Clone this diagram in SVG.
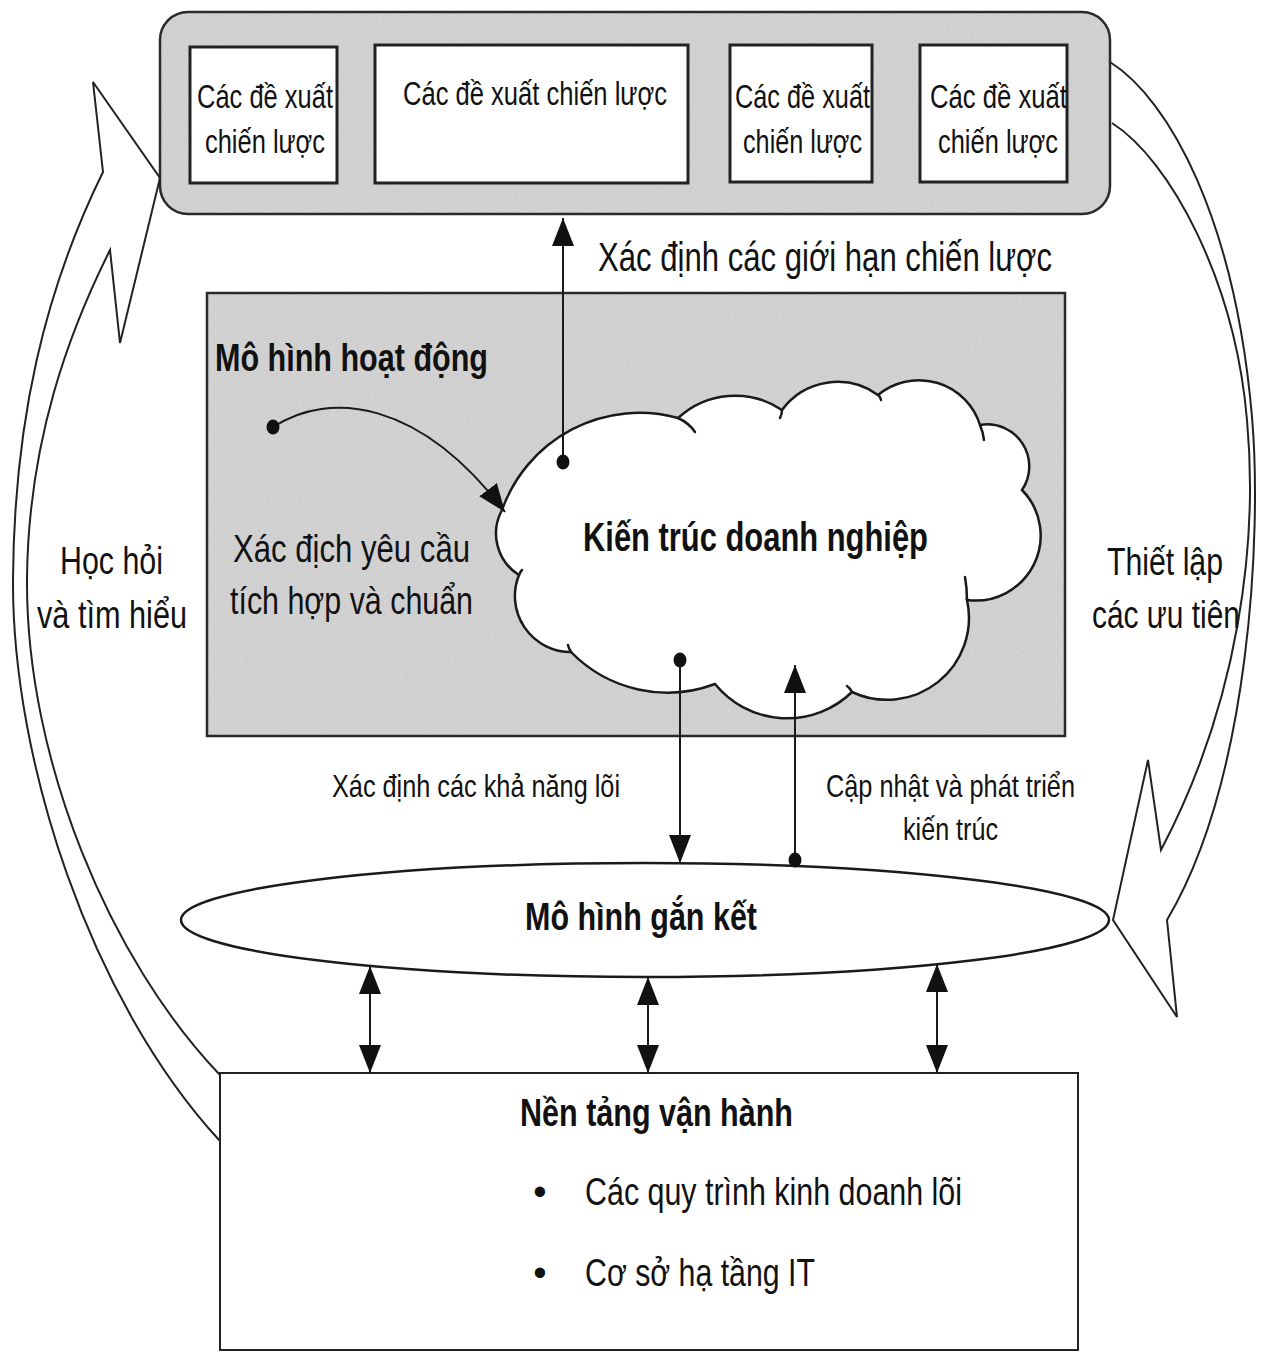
<svg xmlns="http://www.w3.org/2000/svg" width="1266" height="1353" viewBox="0 0 1266 1353">
<defs>
<marker id="ah" viewBox="0 0 28 22" refX="28" refY="11" markerWidth="28" markerHeight="22" markerUnits="userSpaceOnUse" orient="auto-start-reverse">
<path d="M0,0 L28,11 L0,22 Z" fill="#111"/>
</marker>
<marker id="dot" viewBox="0 0 14 16" refX="7" refY="8" markerWidth="14" markerHeight="16" markerUnits="userSpaceOnUse">
<ellipse cx="7" cy="8" rx="6.5" ry="7.5" fill="#111"/>
</marker>
<filter id="grain" x="0" y="0" width="100%" height="100%">
<feTurbulence type="fractalNoise" baseFrequency="0.85" numOctaves="2" seed="7" result="n"/>
<feColorMatrix in="n" type="matrix" values="0 0 0 0 0.5  0 0 0 0 0.5  0 0 0 0 0.5  0 0 0 0.9 -0.3" result="g"/>
<feComposite in="g" in2="SourceGraphic" operator="in" result="gi"/>
<feMerge><feMergeNode in="SourceGraphic"/><feMergeNode in="gi"/></feMerge>
</filter>
</defs>
<style>
text{font-family:"Liberation Sans",Arial,sans-serif;fill:#111}
.r34{font-size:34px}
.r32{font-size:32px}
.r38{font-size:38px}
.r40{font-size:40px}
.b{font-weight:bold;font-size:39px}
.fillgrey{fill:#d4d4d4}
.edge{fill:none;stroke:#2a2a2a;stroke-width:2.5}
.wbox{fill:#fff;stroke:#222;stroke-width:3}
.line{fill:none;stroke:#1a1a1a;stroke-width:2}
.big{fill:none;stroke:#222;stroke-width:2}
.tail{fill:none;stroke:#1a1a1a;stroke-width:2.5;stroke-linecap:round}
</style>
<rect width="1266" height="1353" fill="#fff"/>

<g id="strategy-group">
<rect x="160" y="12" width="950" height="202" rx="28" ry="28" class="fillgrey" filter="url(#grain)"/>
<rect x="160" y="12" width="950" height="202" rx="28" ry="28" class="edge"/>
</g>
<g id="proposal-1">
<rect x="190" y="47" width="147" height="136" class="wbox"/>
<text class="r34" x="197" y="108" textLength="136" lengthAdjust="spacingAndGlyphs">Các đề xuất</text>
<text class="r34" x="205" y="153" textLength="120" lengthAdjust="spacingAndGlyphs">chiến lược</text>
</g>
<g id="proposal-2">
<rect x="375" y="45" width="313" height="138" class="wbox"/>
<text class="r34" x="403" y="105" textLength="264" lengthAdjust="spacingAndGlyphs">Các đề xuất chiến lược</text>
</g>
<g id="proposal-3">
<rect x="730" y="45" width="142" height="137" class="wbox"/>
<text class="r34" x="735" y="108" textLength="135" lengthAdjust="spacingAndGlyphs">Các đề xuất</text>
<text class="r34" x="743" y="153" textLength="119" lengthAdjust="spacingAndGlyphs">chiến lược</text>
</g>
<g id="proposal-4">
<rect x="920" y="45" width="147" height="137" class="wbox"/>
<text class="r34" x="930" y="108" textLength="137" lengthAdjust="spacingAndGlyphs">Các đề xuất</text>
<text class="r34" x="938" y="153" textLength="120" lengthAdjust="spacingAndGlyphs">chiến lược</text>
</g>

<g id="operating-model">
<rect x="207" y="293" width="858" height="443" class="fillgrey" filter="url(#grain)"/>
<rect x="207" y="293" width="858" height="443" class="edge"/>
<text class="b" x="215" y="371" style="font-size:38px" textLength="273" lengthAdjust="spacingAndGlyphs">Mô hình hoạt động</text>
<text class="r38" x="233" y="562" textLength="237" lengthAdjust="spacingAndGlyphs">Xác địch yêu cầu</text>
<text class="r38" x="230" y="614" textLength="243" lengthAdjust="spacingAndGlyphs">tích hợp và chuẩn</text>
</g>

<g id="enterprise-architecture">
<path d="M502,510 A146,146 0 0 1 678,418 A84,84 0 0 1 782,410 A69,69 0 0 1 878,395 A64,64 0 0 1 980,425 A42,42 0 0 1 1022,490 A65,65 0 0 1 967,600 A82,82 0 0 1 852,692 A93,93 0 0 1 715,684 A135,135 0 0 1 571,652 A56,56 0 0 1 519,575 A49,49 0 0 1 502,510 Z" fill="#fff" stroke="#1a1a1a" stroke-width="2.5"/>
<path class="tail" d="M678,418 Q689,423 695,432"/>
<path class="tail" d="M782,410 Q782,414 780,418"/>
<path class="tail" d="M878,395 Q880,396 881,400"/>
<path class="tail" d="M980,425 Q983,432 984,440"/>
<path class="tail" d="M967,600 Q967,588 965,577"/>
<path class="tail" d="M852,692 Q850,688 847,686"/>
<path class="tail" d="M571,652 Q569,649 568,645"/>
<path class="tail" d="M519,575 Q520,572 522,570"/>
<text class="b" x="583" y="551" style="font-size:40px" textLength="345" lengthAdjust="spacingAndGlyphs">Kiến trúc doanh nghiệp</text>
</g>

<g id="engagement-model">
<ellipse cx="645" cy="920" rx="464" ry="57" fill="#fff" stroke="#1a1a1a" stroke-width="2.5"/>
<text class="b" x="525" y="930" textLength="232" lengthAdjust="spacingAndGlyphs">Mô hình gắn kết</text>
</g>

<g id="operating-platform">
<rect x="220" y="1073" width="858" height="277" fill="#fff" stroke="#222" stroke-width="2"/>
<text class="b" x="520" y="1126" textLength="273" lengthAdjust="spacingAndGlyphs">Nền tảng vận hành</text>
<text class="r38" x="540" y="1205" text-anchor="middle">•</text>
<text class="r38" x="585" y="1205" textLength="377" lengthAdjust="spacingAndGlyphs">Các quy trình kinh doanh lõi</text>
<text class="r38" x="540" y="1286" text-anchor="middle">•</text>
<text class="r38" x="585" y="1286" textLength="230" lengthAdjust="spacingAndGlyphs">Cơ sở hạ tầng IT</text>
</g>

<g id="connectors">
<path class="big" d="M220,1141 C90,1000 12,760 13,580 C14,420 45,290 103,172 L93,82 L160,178 L120,343 L110,250 C70,330 28,440 27,580 C26,760 110,960 220,1075"/>
<path class="big" d="M1110,62 C1170,100 1235,220 1252,417 C1262,533 1250,780 1167,920 L1177,1017 L1113,920 L1148,760 L1161,850 C1240,700 1258,540 1247,420 C1235,280 1170,160 1112,123"/>
<path class="line" d="M563,462 L563,218" marker-start="url(#dot)" marker-end="url(#ah)"/>
<path class="line" d="M273,427 C330,390 420,400 505,512" marker-start="url(#dot)" marker-end="url(#ah)"/>
<path class="line" d="M680,660 L680,863" marker-start="url(#dot)" marker-end="url(#ah)"/>
<path class="line" d="M795,860 L795,665" marker-start="url(#dot)" marker-end="url(#ah)"/>
<path class="line" d="M370,966 L370,1073" marker-start="url(#ah)" marker-end="url(#ah)"/>
<path class="line" d="M648,977 L648,1073" marker-start="url(#ah)" marker-end="url(#ah)"/>
<path class="line" d="M937,964 L937,1073" marker-start="url(#ah)" marker-end="url(#ah)"/>
</g>

<g id="labels">
<text class="r40" x="598" y="271" textLength="454" lengthAdjust="spacingAndGlyphs">Xác định các giới hạn chiến lược</text>
<text class="r38" x="60" y="574" textLength="103" lengthAdjust="spacingAndGlyphs">Học hỏi</text>
<text class="r38" x="37" y="628" textLength="150" lengthAdjust="spacingAndGlyphs">và tìm hiểu</text>
<text class="r38" x="1107" y="575" textLength="116" lengthAdjust="spacingAndGlyphs">Thiết lập</text>
<text class="r38" x="1092" y="628" textLength="148" lengthAdjust="spacingAndGlyphs">các ưu tiên</text>
<text class="r32" x="332" y="797" textLength="288" lengthAdjust="spacingAndGlyphs">Xác định các khả năng lõi</text>
<text class="r32" x="826" y="797" textLength="249" lengthAdjust="spacingAndGlyphs">Cập nhật  và phát triển</text>
<text class="r32" x="903" y="840" textLength="95" lengthAdjust="spacingAndGlyphs">kiến trúc</text>
</g>
</svg>
